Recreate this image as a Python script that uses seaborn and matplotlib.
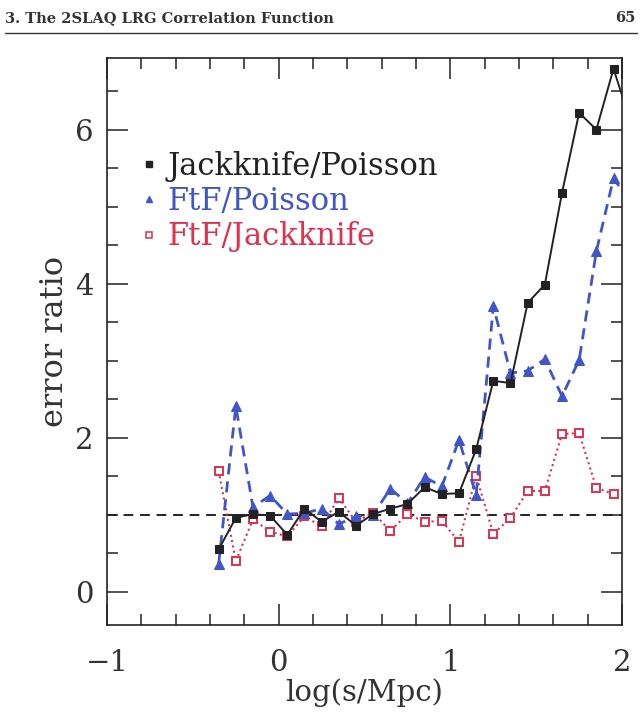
import matplotlib
matplotlib.use("Agg")
import matplotlib.pyplot as plt
import seaborn as sns
import pandas as pd
from matplotlib.lines import Line2D
from matplotlib.ticker import MultipleLocator

# bin centres in log(s/Mpc)
log_s = [-0.35, -0.25, -0.15, -0.05, 0.05, 0.15, 0.25, 0.35, 0.45, 0.55,
         0.65, 0.75, 0.85, 0.95, 1.05, 1.15, 1.25, 1.35, 1.45, 1.55,
         1.65, 1.75, 1.85, 1.95, 2.05]

jack_poisson = [0.55, 0.96, 1.01, 0.99, 0.74, 1.08, 0.91, 1.04, 0.86, 1.01,
                1.08, 1.14, 1.36, 1.27, 1.28, 1.85, 2.74, 2.71, 3.75, 3.99,
                5.18, 6.22, 6.00, 6.79, 6.10]
ftf_poisson = [0.36, 2.41, 1.10, 1.25, 1.01, 1.02, 1.08, 0.88, 0.98, 1.00,
               1.34, 1.15, 1.49, 1.37, 1.97, 1.26, 3.71, 2.84, 2.87, 3.02,
               2.54, 3.01, 4.42, 5.37, 5.05]
ftf_jack = [1.57, 0.40, 0.94, 0.78, 0.72, 0.98, 0.85, 1.22, 0.91, 1.03,
            0.79, 1.01, 0.91, 0.92, 0.65, 1.51, 0.75, 0.96, 1.31, 1.31,
            2.05, 2.06, 1.35, 1.27]

labels = ["Jackknife/Poisson", "FtF/Poisson", "FtF/Jackknife"]
colors = ["#222222", "#4055c8", "#e2304f"]

x_ticks = [-1, 0, 1, 2]
y_ticks = [0, 2, 4, 6]

sns.set_style("ticks")
plt.rcParams['font.family'] = ['DejaVu Serif']

df_jp = pd.DataFrame({"x": log_s, "y": jack_poisson})
df_fp = pd.DataFrame({"x": log_s, "y": ftf_poisson})
df_fj = pd.DataFrame({"x": log_s[:len(ftf_jack)], "y": ftf_jack})

fig = plt.figure(figsize=(6.42, 7.28), dpi=100)
ax = fig.add_axes([0.1667, 0.1415, 0.8023, 0.7788])

ax.axhline(1.0, color="#222222", lw=1.4, linestyle=(0, (5, 3.5)), zorder=1)

sns.lineplot(data=df_fj, x="x", y="y", ax=ax, color=colors[2], lw=1.5,
             linestyle=(0, (1, 1.6)), marker="s", markersize=5.5,
             markerfacecolor="white", markeredgecolor=colors[2],
             markeredgewidth=1.4, estimator=None, sort=False, zorder=2)
sns.lineplot(data=df_fp, x="x", y="y", ax=ax, color=colors[1], lw=2.0,
             linestyle=(0, (4, 2.5)), marker="^", markersize=6.5,
             markeredgecolor=colors[1], estimator=None, sort=False, zorder=3)
sns.lineplot(data=df_jp, x="x", y="y", ax=ax, color=colors[0], lw=1.4,
             marker="s", markersize=5.2, markeredgecolor=colors[0],
             estimator=None, sort=False, zorder=4)

ax.set_xlim(-1, 2)
ax.set_ylim(-0.43, 6.93)
ax.set_xticks(x_ticks)
ax.set_yticks(y_ticks)
ax.set_xticklabels(["\u22121", "0", "1", "2"])
ax.xaxis.set_minor_locator(MultipleLocator(0.2))
ax.yaxis.set_minor_locator(MultipleLocator(0.5))
ax.tick_params(which="both", direction="in", top=True, right=True,
               color="#222222", width=1.1)
ax.tick_params(which="major", length=15, labelsize=21, labelcolor="#333333")
ax.tick_params(axis="x", which="major", pad=17)
ax.tick_params(axis="y", which="major", pad=10)
ax.tick_params(which="minor", length=8)
for sp in ax.spines.values():
    sp.set_linewidth(1.2)
    sp.set_color("#222222")

ax.set_xlabel("log(s/Mpc)", fontsize=21, color="#333333", labelpad=1)
ax.set_ylabel("error ratio", fontsize=23, color="#333333", labelpad=3)

handles = [
    Line2D([], [], ls="", marker="s", color=colors[0], markersize=4.5),
    Line2D([], [], ls="", marker="^", color=colors[1], markersize=5),
    Line2D([], [], ls="", marker="s", markerfacecolor="white",
           markeredgecolor=colors[2], markeredgewidth=1.1, markersize=5),
]
leg = ax.legend(handles, labels, loc="upper left",
                bbox_to_anchor=(0.04, 0.858), frameon=False, fontsize=22,
                handlelength=0.6, handletextpad=0.3, labelspacing=0.14,
                borderaxespad=0)
for txt, c in zip(leg.get_texts(), colors):
    txt.set_color(c)

# page header
fig.text(0.008, 0.985, "3. The 2SLAQ LRG Correlation Function",
         fontsize=10.5, fontweight="bold", va="top", color="#333333")
fig.text(0.99, 0.985, "65", fontsize=10.5, fontweight="bold", va="top",
         ha="right", color="#333333")
fig.add_artist(Line2D([0.008, 0.992], [0.955, 0.955], color="#333333",
                      lw=1.0, transform=fig.transFigure))

fig.savefig("out.png", dpi=100)
